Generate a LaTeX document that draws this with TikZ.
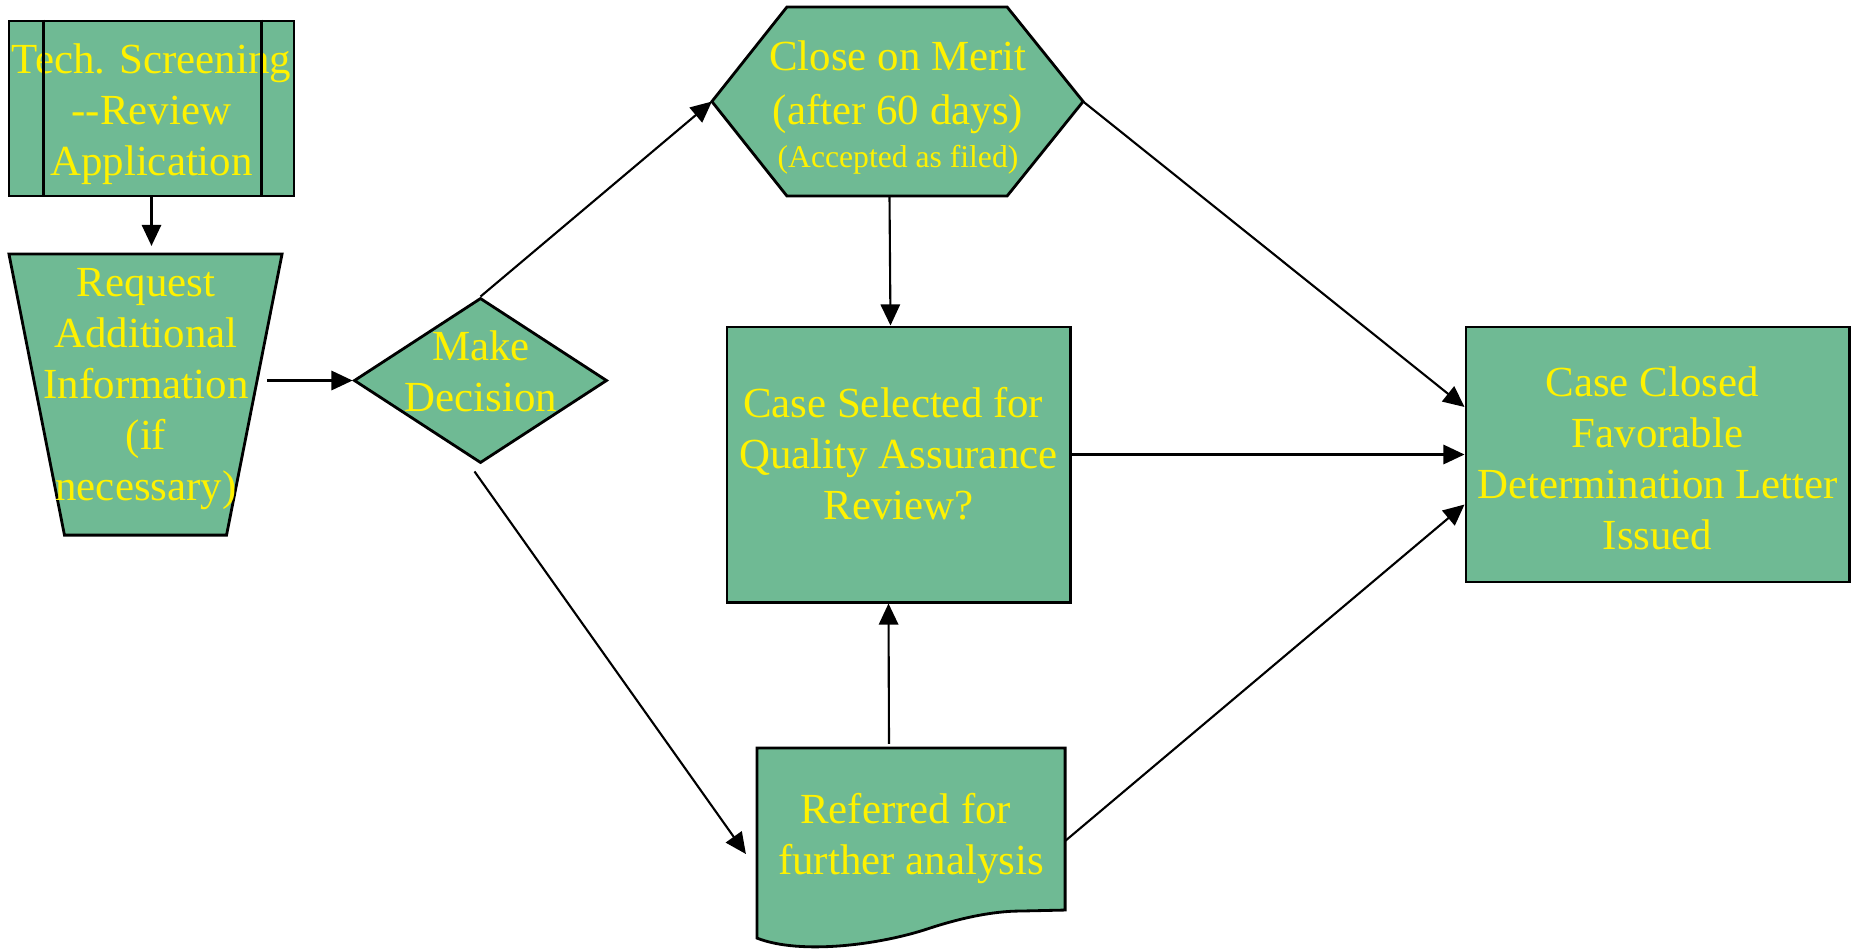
\documentclass[tikz,border=0pt]{standalone}
\usepackage{fontspec}
\setmainfont{Liberation Serif}
\usetikzlibrary{arrows.meta,shapes.geometric}
\definecolor{boxgreen}{RGB}{111,186,148}
\newcommand{\tsp}{\hspace*{0.25em}}

\begin{document}
\begin{tikzpicture}[x=0.01cm,y=-0.01cm,
  shp/.style={draw,fill=boxgreen,line width=0.8pt},
  frame/.style={inner sep=0,outer sep=0},
  txt/.style={text=yellow,align=center,font=\fontsize{12.2}{14.5}\selectfont,inner sep=0},
  arr/.style={line width=0.6pt,-{Triangle[length=6pt,width=5.5pt]}}]
\useasboundingbox (0,0) rectangle (1852,948);
\node[shp,minimum width=2.85cm,minimum height=1.75cm] (tech) at (151.5,108.5) {};
\node[txt] (tech-t) at (151.5,114.5) {Tech. Screening\\-{}-Review\\Application};
\draw[line width=0.8pt] ([xshift=0.36cm]tech.north west) -- ([xshift=0.36cm]tech.south west)
  ([xshift=-0.34cm]tech.north east) -- ([xshift=-0.34cm]tech.south east);
\node[frame,minimum width=2.73cm,minimum height=2.81cm] (req) at (145.5,394.5) {};
\draw[shp] (req.north west) -- (req.north east) -- ([xshift=-0.555cm]req.south east) -- ([xshift=0.555cm]req.south west) -- cycle;
\node[txt] (req-t) at (146,389.5) {Request\\Additional\\Information\\(if\\necessary)};
\node[shp,diamond,minimum width=2.53cm,minimum height=1.65cm,inner sep=0] (dec) at (480.5,380.5) {};
\node[txt] (dec-t) at (481,371) {Make\\Decision};
\node[frame,minimum width=3.71cm,minimum height=1.89cm] (hex) at (897.5,101.5) {};
\draw[shp] (hex.west) -- ([xshift=0.75cm]hex.north west) -- ([xshift=-0.76cm]hex.north east) -- (hex.east)
  -- ([xshift=-0.76cm]hex.south east) -- ([xshift=0.75cm]hex.south west) -- cycle;
\node[txt] (hex-t) at (898,107.5) {Close on Merit\\[1pt](after 60 days)\\[-2.3pt]{\fontsize{9}{11}\selectfont(Accepted as filed)}};
\node[shp,minimum width=3.43cm,minimum height=2.75cm] (qa) at (898.5,464.5) {};
\node[txt] (qa-t) at (898.5,453.5) {Case Selected for\tsp\\Quality Assurance\\Review?};
\node[shp,minimum width=3.83cm,minimum height=2.55cm] (closed) at (1657.5,454.5) {};
\node[txt] (closed-t) at (1657.5,458) {Case Closed\tsp\\Favorable\\Determination Letter\\Issued};
\node[frame,minimum width=3.08cm,minimum height=1.9cm] (ref) at (911,843) {};
\draw[shp] (ref.south west) -- (ref.north west) -- (ref.north east) -- ([yshift=0.28cm]ref.south east)
  -- ([xshift=2.63cm,yshift=0.27cm]ref.south west)
  .. controls ([xshift=2.43cm,yshift=0.27cm]ref.south west) and ([xshift=2.13cm,yshift=0.23cm]ref.south west) .. ([xshift=1.73cm,yshift=0.1cm]ref.south west)
  .. controls ([xshift=1.23cm,yshift=-0.07cm]ref.south west) and ([xshift=0.43cm,yshift=-0.17cm]ref.south west) .. (ref.south west) -- cycle;
\node[txt] (ref-t) at (911,839) {Referred for\tsp\\further analysis};
\draw[arr] (tech.south) -- ([yshift=0.08cm]tech.south |- req.north);
\draw[arr] ([xshift=-0.15cm]req.east |- dec.west) -- (dec.west);
\draw[arr] (dec.north) -- (hex.west);
\draw[arr] ([xshift=-0.08cm]hex.south) -- ([xshift=-0.08cm]qa.north);
\draw[arr] ([xshift=-0.06cm,yshift=-0.07cm]dec.south) -- ([xshift=-0.11cm,yshift=-0.11cm]ref.west);
\draw[arr] ([xshift=-0.22cm,yshift=0.04cm]ref.north) -- ([xshift=-0.1cm]qa.south);
\draw[arr] (hex.east) -- ([yshift=0.475cm]closed.west);
\draw[arr] (qa.east |- closed.west) -- (closed.west);
\draw[arr] ([yshift=0.02cm]ref.east) -- ([yshift=-0.5cm]closed.west);
\end{tikzpicture}
\end{document}
